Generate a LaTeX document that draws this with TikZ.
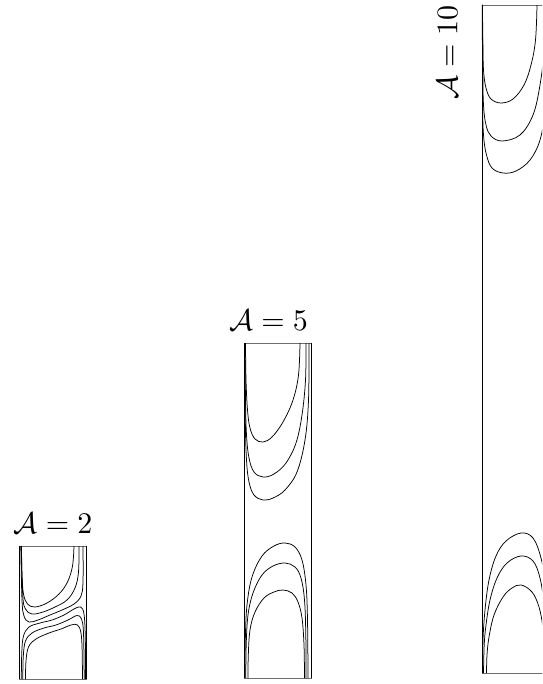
\documentclass[tikz,border=0pt]{standalone}
\usetikzlibrary{positioning}
\definecolor{edgecol}{RGB}{110,110,110}

\begin{document}
\begin{tikzpicture}[
    x=1pt, y=-1pt,
    cell/.style={rectangle, draw=edgecol, line width=0.5pt, inner sep=0pt, outer sep=0pt, minimum width=67pt},
    wall/.style={line width=1pt},
    stream/.style={line width=0.75pt},
    lbl/.style={scale=3, inner sep=0pt},
]
\useasboundingbox (0,0) rectangle (542,684);
\clip (0,0) rectangle (542,684);

\node[cell, minimum height=133pt] (box2) at (53,612.5) {};
\node[cell, minimum height=335pt] (box5) at (277.5,510.5) {};
\node[cell, minimum height=668pt] (box10) at (515.5,339) {};

\draw[wall] (box2.north west) -- (box2.south west) (box2.north east) -- (box2.south east);
\draw[wall] (box5.north west) -- (box5.south west) (box5.north east) -- (box5.south east);
\draw[wall] (box10.north west) -- (box10.south west) (box10.north east) -- (box10.south east);

\node[lbl, above=12pt of box2] (lab2) {$\mathcal{A}=2$};
\node[lbl, above=12pt of box5, xshift=-3pt] (lab5) {$\mathcal{A}=5$};
\node[lbl, rotate=90, anchor=south east] (lab10) at ([xshift=-24pt]box10.north west) {$\mathcal{A}=10$};

% A = 2
\draw[stream] plot[smooth, tension=0.6] coordinates {(74,546) (72.5,566) (67.5,582) (59,594) (47,603) (35,607) (27.5,604) (23.5,594) (22,575) (21.5,546)};
\draw[stream] plot[smooth, tension=0.6] coordinates {(79,546) (78.5,572) (75,588) (67,600) (55,607) (43,612) (32,614) (25.5,609) (22.8,596) (21.2,546)};
\draw[stream] plot[smooth, tension=0.6] coordinates {(83,546) (83,582) (81,596) (74,604) (62,610) (50,615) (38,620) (29,622) (24,616) (22,600) (20.8,546)};
\draw[stream] plot[smooth, tension=0.6] coordinates {(21.3,679) (21.8,652) (23.5,636) (29,627) (40,623) (52,620) (64,615) (74,609) (80.5,607) (84,614) (85.3,638) (85.5,679)};
\draw[stream] plot[smooth, tension=0.6] coordinates {(22.8,679) (23.3,656) (25.5,641) (32,633) (44,628) (56,625) (68,620) (77,615.5) (81.5,619) (83.5,633) (84.2,679)};
\draw[stream] plot[smooth, tension=0.6] coordinates {(25.5,679) (26,661) (28.5,647) (36,639) (49,633) (61,629) (71,625) (77.5,625) (81,633) (82.2,652) (82.4,679)};

% A = 5
\draw[stream] plot[smooth, tension=0.6] coordinates {(300,343) (298.5,375) (293,400) (283,422) (272,437) (263,442) (255,439) (250,428) (247.5,410) (246,380) (245.5,343)};
\draw[stream] plot[smooth, tension=0.6] coordinates {(306,343) (305.5,380) (302,415) (296,443) (286,463) (274,474) (263,477) (254,472) (249,458) (246.5,435) (245.5,400) (245,343)};
\draw[stream] plot[smooth, tension=0.6] coordinates {(309,343) (308.5,400) (305,440) (297,472) (285,490) (273,498) (263,500) (254,495) (249,482) (246.5,460) (245.3,420) (244.8,343)};
\draw[stream] plot[smooth, tension=0.6] coordinates {(245,678) (245.3,640) (247,605) (252,577) (262,556) (274,546) (285,543) (295,547) (302,560) (306,585) (307.5,620) (308,678)};
\draw[stream] plot[smooth, tension=0.6] coordinates {(245.8,678) (246.2,645) (248,615) (253,593) (262,575) (273,566) (285,563) (295,567) (301,578) (304.5,600) (305.8,635) (306,678)};
\draw[stream] plot[smooth, tension=0.6] coordinates {(248,678) (248.3,655) (250,630) (255,612) (264,598) (274,592) (283,590) (292,593) (298,602) (302,618) (304,645) (304.5,678)};

% A = 10
\draw[stream] plot[smooth, tension=0.6] coordinates {(537,5) (535.5,40) (531,65) (524,85) (513,99) (501,103) (491,99) (486,88) (483.5,70) (482.8,40) (482.5,5)};
\draw[stream] plot[smooth, tension=0.6] coordinates {(545,5) (544,50) (540,85) (533,115) (520,135) (502,141) (491,136) (486,125) (483.5,105) (482.8,70) (482.5,5)};
\draw[stream] plot[smooth, tension=0.6] coordinates {(548,5) (547.5,60) (545,110) (540,140) (530,160) (516,171) (503,173) (492,168) (486.5,155) (483.5,135) (482.6,100) (482.3,5)};
\draw[stream] plot[smooth, tension=0.6] coordinates {(482.6,673) (483,640) (485,610) (489,580) (496,556) (506,541) (521,533) (533,538) (541,558) (545.5,585) (547.5,620) (548,673)};
\draw[stream] plot[smooth, tension=0.6] coordinates {(483.5,673) (484.2,645) (486,625) (490,600) (497,578) (507,563) (521,556) (533,561) (540,578) (544,605) (546,640) (546.5,673)};
\draw[stream] plot[smooth, tension=0.6] coordinates {(486.5,673) (487,655) (489,637) (494,615) (503,597) (512,588) (521,585) (532,592) (539,607) (543,628) (545,655) (545.3,673)};
\end{tikzpicture}
\end{document}
